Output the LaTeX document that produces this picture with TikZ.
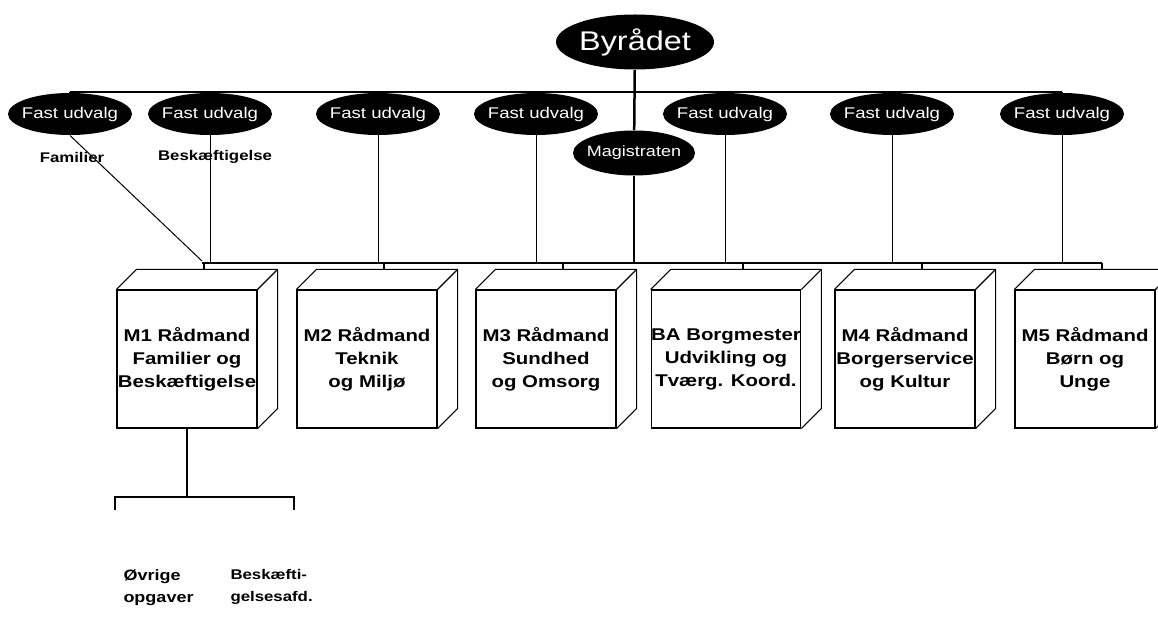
\documentclass[tikz,border=0pt]{standalone}
\usepackage{fontspec}
\setmainfont[FakeStretch=1.2]{Liberation Sans}
\usetikzlibrary{shapes.geometric}
\tikzset{
  udvalg/.style={ellipse,fill=black,text=white,minimum width=124pt,minimum height=42pt,inner ysep=0pt,inner xsep=-5pt,font=\fontsize{15.5}{18}\selectfont},
  enhed/.style={draw,line width=1.1pt,fill=white,minimum width=140pt,minimum height=138pt,align=center,inner sep=0pt,font=\bfseries\fontsize{17}{23}\selectfont},
  lbl/.style={font=\bfseries\fontsize{14}{22}\selectfont,align=left,inner sep=0pt},
  bus/.style={line width=2pt},
}
\begin{document}
\begin{tikzpicture}[x=1pt,y=-1pt,line width=1pt]
  \useasboundingbox (0,0) rectangle (1158,617);
  \node[udvalg,minimum width=158pt,minimum height=55pt,font=\fontsize{27}{30}\selectfont] (byr) at (635,42) {Byrådet};
  \coordinate (tbus) at (0,92);
  \coordinate (lbus) at (0,263);
  \draw
    (70,114) node[udvalg] (u1){Fast udvalg}
    (210,114) node[udvalg] (u2){Fast udvalg}
    (378,114) node[udvalg] (u3){Fast udvalg}
    (536,114) node[udvalg] (u4){Fast udvalg}
    (725,114) node[udvalg] (u5){Fast udvalg}
    (892,114) node[udvalg] (u6){Fast udvalg}
    (1062,114) node[udvalg] (u7){Fast udvalg};
  \node[udvalg,minimum width=122pt,minimum height=45pt,inner xsep=-6pt,font=\fontsize{15}{17}\selectfont] (mag) at (634,153) {Magistraten};
  \node[lbl] (fam) at (72,157) {Familier};
  \node[lbl] (besk) at (215,157) {Beskæftigelse};
  % forvaltningerne
  \draw
    (187,359) node[enhed] (m1){M1 Rådmand\\Familier og\\Beskæftigelse}
    (367,359) node[enhed] (m2){M2 Rådmand\\Teknik\\og Miljø}
    (546,359) node[enhed] (m3){M3 Rådmand\\Sundhed\\og Omsorg}
    (726,359) node[enhed] (ba){BA Borgmester\\Udvikling og\\Tværg. Koord.}
    (905,359) node[enhed] (m4){M4 Rådmand\\Borgerservice\\og Kultur}
    (1085,359) node[enhed] (m5){M5 Rådmand\\Børn og\\Unge};
  \foreach \b in {m1,m2,m3,ba,m4,m5} {
    \draw[line width=1.1pt] (\b.north west) -- ++(20,-20) -- ([shift={(20,-20)}]\b.north east) -- ([shift={(20,-20)}]\b.south east) -- (\b.south east);
    \draw[line width=1.1pt] (\b.north east) -- ++(20,-20);
    \draw[line width=1.5pt] ([xshift=17pt]\b.north |- lbus) -- ([shift={(17,-20)}]\b.north);
  }
  % linjer
  \draw[bus] (u1.north |- tbus) -- (u7.north |- tbus);
  \foreach \i in {1,...,7}
    \draw[line width=1.5pt] (u\i.north |- tbus) -- (u\i.north);
  \draw[line width=2.5pt] (byr) -- (mag);
  \draw[line width=2.5pt] (mag.south) -- (mag.south |- lbus);
  \draw[bus] (202,263) -- ([xshift=17pt]m5.north |- lbus);
  \draw (u1.south) -- (202,261);
  \foreach \i in {2,...,7}
    \draw (u\i.south) -- (u\i.south |- lbus);
  % under M1
  \coordinate (split) at (187,497);
  \draw[line width=2.5pt] (m1.south) -- (split);
  \draw[bus] (115,510) -- (115,497) -- (294,497) -- (294,510);
  \node[lbl,anchor=north west,font=\bfseries\fontsize{15}{22}\selectfont] (ovr) at (123,569) {Øvrige\\opgaver};
  \node[lbl,anchor=north west] (bafd) at (230,569) {Beskæfti-\\gelsesafd.};
\end{tikzpicture}
\end{document}
